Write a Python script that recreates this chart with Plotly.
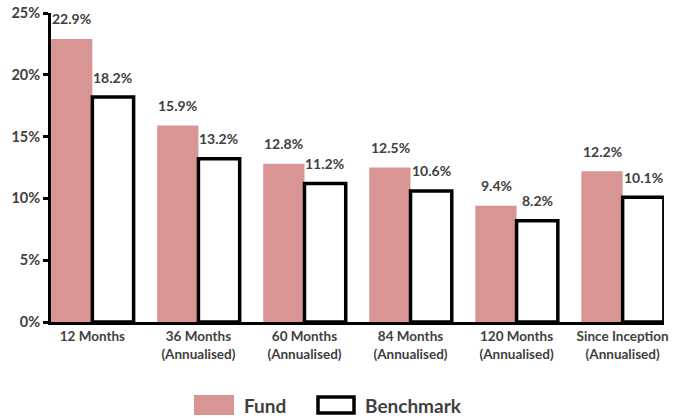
import plotly.graph_objects as go

categories = ["12 Months", "36 Months<br>(Annualised)", "60 Months<br>(Annualised)",
              "84 Months<br>(Annualised)", "120 Months<br>(Annualised)", "Since Inception<br>(Annualised)"]
fund = [22.9, 15.9, 12.8, 12.5, 9.4, 12.2]
benchmark = [18.2, 13.2, 11.2, 10.6, 8.2, 10.1]
y_ticks = [0, 5, 10, 15, 20, 25]
y_ticklabels = [f"{v}%" for v in y_ticks]

FUND_COLOR = "#D99594"
TEXT = "#404040"
FONT = "Lato"

W, H = 684, 418
L, R, T, B = 51, 20, 13, 96
PW, PH = W - L - R, H - T - B

def px(x):
    return (x - L) / PW

def py(y):
    return (H - B - y) / PH

xs = list(range(len(categories)))

fig = go.Figure()
fig.add_trace(go.Bar(x=xs, y=fund, name="Fund", marker=dict(color=FUND_COLOR, line=dict(width=0))))
fig.add_trace(go.Bar(x=xs, y=benchmark, name="Benchmark",
                     marker=dict(color="white", line=dict(color="black", width=3.5))))

label_font = dict(family=FONT, size=14, color=TEXT, weight="bold")
annotations = []
for i, (f, b) in enumerate(zip(fund, benchmark)):
    annotations.append(dict(x=i, y=f, xref="x", yref="y", text=f"{f:.1f}%", showarrow=False,
                            xshift=-20.5, yshift=20, yanchor="middle", font=label_font))
    annotations.append(dict(x=i, y=b, xref="x", yref="y", text=f"{b:.1f}%", showarrow=False,
                            xshift=20.5, yshift=20, yanchor="middle", font=label_font))

# custom legend
legend_font = dict(family=FONT, size=19, color=TEXT, weight="bold")
annotations.append(dict(x=px(242), y=py(405), xref="paper", yref="paper", text="Fund", showarrow=False,
                        xanchor="left", yanchor="middle", font=legend_font))
annotations.append(dict(x=px(363), y=py(405), xref="paper", yref="paper", text="Benchmark", showarrow=False,
                        xanchor="left", yanchor="middle", font=legend_font))
shapes = [
    dict(type="rect", xref="paper", yref="paper", x0=px(194), x1=px(234), y0=py(415), y1=py(395),
         fillcolor=FUND_COLOR, line=dict(width=0)),
    dict(type="rect", xref="paper", yref="paper", x0=px(318), x1=px(354), y0=py(413), y1=py(397),
         fillcolor="white", line=dict(color="black", width=3.5)),
]

fig.update_layout(
    width=W, height=H,
    margin=dict(l=L, r=R, t=T, b=B, autoexpand=False),
    paper_bgcolor="white", plot_bgcolor="white",
    barmode="group", bargap=0.222, bargroupgap=0,
    showlegend=False,
    annotations=annotations, shapes=shapes,
    font=dict(family=FONT, color=TEXT),
)
fig.update_xaxes(
    range=[-0.39, 5.39], tickvals=xs, ticktext=categories, automargin=False,
    showline=True, linecolor="black", linewidth=3, ticks="", showgrid=False, zeroline=False,
    tickfont=dict(family=FONT, size=13.5, color=TEXT, weight="bold"),
)
fig.update_yaxes(
    range=[0, 25], tickvals=y_ticks, ticktext=y_ticklabels, automargin=False,
    showline=True, linecolor="black", linewidth=3, ticks="outside", ticklen=5, tickwidth=3,
    tickcolor="black", showgrid=False, zeroline=False,
    tickfont=dict(family=FONT, size=14.5, color=TEXT, weight="bold"),
)
fig.update_traces(cliponaxis=False)

fig.write_html("out.html", config={"displayModeBar": False},
               post_script="document.body.style.margin='0';document.body.style.overflow='hidden';")
